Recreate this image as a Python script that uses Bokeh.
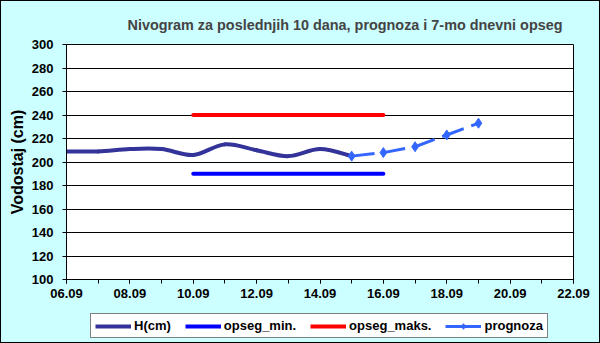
from bokeh.plotting import figure
from bokeh.layouts import column
from bokeh.models import Range1d, FixedTicker, Legend, LegendItem
from bokeh.embed import file_html
from bokeh.resources import INLINE

# ---- data ----
h_dates = ["06.09", "07.09", "08.09", "09.09", "10.09", "11.09", "12.09", "13.09", "14.09", "15.09"]
h_values = [209, 209, 211, 211, 206, 215, 210, 205, 211, 205]

prog_dates = ["15.09", "16.09", "17.09", "18.09", "19.09"]
prog_values = [205, 208, 213, 223, 233]

range_dates = ["10.09", "16.09"]
range_min = [190, 190]
range_max = [240, 240]

x_tick_labels = ["06.09", "08.09", "10.09", "12.09", "14.09", "16.09", "18.09", "20.09", "22.09"]
y_ticks = [100, 120, 140, 160, 180, 200, 220, 240, 260, 280, 300]

series_labels = ["H(cm)", "opseg_min.", "opseg_maks.", "prognoza"]
title_text = "Nivogram za poslednjih 10 dana, prognoza i 7-mo dnevni opseg"
y_label = "Vodostaj (cm)"


def day(s):
    return int(s.split(".")[0])


hx = [day(d) for d in h_dates]
px = [day(d) for d in prog_dates]
rx = [day(d) for d in range_dates]
xt = [day(d) for d in x_tick_labels]

FONT = "Liberation Sans"
BG = "#CCFFFF"
C_H, C_MIN, C_MAX, C_P = "#333399", "#0000FF", "#FF0000", "#3366FF"

p = figure(width=598, height=305, output_backend="svg", toolbar_location=None,
           x_range=Range1d(xt[0], xt[-1]), y_range=Range1d(y_ticks[0], y_ticks[-1]),
           min_border_left=65, min_border_right=26, min_border_top=43, min_border_bottom=27)
p.background_fill_color = "white"
p.border_fill_color = BG
p.outline_line_color = "black"
p.outline_line_width = 1

# title
p.title.text = title_text
p.title.text_font = FONT
p.title.text_font_style = "bold"
p.title.text_font_size = "14.4px"
p.title.align = "left"
p.title.offset = 61
p.title.standoff = 24

# axes
p.xaxis.ticker = FixedTicker(ticks=xt, minor_ticks=list(range(xt[0], xt[-1] + 1)))
p.xaxis.major_label_overrides = {d: s for d, s in zip(xt, x_tick_labels)}
p.yaxis.ticker = FixedTicker(ticks=y_ticks)
for ax in (p.xaxis[0], p.yaxis[0]):
    ax.axis_line_color = "black"
    ax.major_tick_line_color = "black"
    ax.major_tick_in = 0
    ax.major_tick_out = 4
    ax.major_label_text_font = FONT
    ax.major_label_text_font_style = "bold"
    ax.major_label_text_font_size = "13px"
    ax.major_label_text_color = "black"
p.xaxis.minor_tick_line_color = "black"
p.xaxis.minor_tick_in = 0
p.xaxis.minor_tick_out = 4
p.xaxis.major_label_standoff = 5
p.yaxis.minor_tick_line_color = None
p.yaxis.major_label_standoff = 9
p.yaxis.axis_label = y_label
p.yaxis.axis_label_text_font = FONT
p.yaxis.axis_label_text_font_style = "bold"
p.yaxis.axis_label_text_font_size = "16px"
p.yaxis.axis_label_text_color = "black"
p.yaxis.axis_label_standoff = 3

p.xgrid.visible = False
p.ygrid.ticker = FixedTicker(ticks=y_ticks)
p.ygrid.grid_line_color = "black"
p.ygrid.grid_line_alpha = 1

# smoothed H line (Catmull-Rom style bezier segments through the data points)
n = len(hx)
x0, y0, x1, y1, cx0, cy0, cx1, cy1 = [], [], [], [], [], [], [], []
for i in range(n - 1):
    pa = (hx[max(i - 1, 0)], h_values[max(i - 1, 0)])
    pb = (hx[i], h_values[i])
    pc = (hx[i + 1], h_values[i + 1])
    pd = (hx[min(i + 2, n - 1)], h_values[min(i + 2, n - 1)])
    x0.append(pb[0]); y0.append(pb[1]); x1.append(pc[0]); y1.append(pc[1])
    cx0.append(pb[0] + (pc[0] - pa[0]) / 6); cy0.append(pb[1] + (pc[1] - pa[1]) / 6)
    cx1.append(pc[0] - (pd[0] - pb[0]) / 6); cy1.append(pc[1] - (pd[1] - pb[1]) / 6)
p.bezier(x0=x0, y0=y0, x1=x1, y1=y1, cx0=cx0, cy0=cy0, cx1=cx1, cy1=cy1,
         line_color=C_H, line_width=4, line_cap="round")
p.line(rx, range_min, line_color=C_MIN, line_width=4, line_cap="round")
p.line(rx, range_max, line_color=C_MAX, line_width=4, line_cap="round")
p.line(px, prog_values, line_color=C_P, line_width=3, line_dash="23 8")
p.scatter(px, prog_values, marker="diamond", size=10, fill_color=C_P, line_color=C_P)

# ---- legend strip below the chart (its frame is aligned with the chart frame) ----
q = figure(width=598, height=36, output_backend="svg", toolbar_location=None,
           x_range=Range1d(0, 1), y_range=Range1d(0, 1),
           min_border_left=0, min_border_right=0, min_border_top=0, min_border_bottom=0)
q.axis.visible = False
q.grid.visible = False
q.outline_line_color = None
q.background_fill_color = BG
q.border_fill_color = BG
off = [-10, -9]  # keys drawn only in the legend, kept outside the visible range
l_h = q.line(off, off, line_color=C_H, line_width=4)
l_min = q.line(off, off, line_color=C_MIN, line_width=4)
l_max = q.line(off, off, line_color=C_MAX, line_width=4)
l_pl = q.line(off, off, line_color=C_P, line_width=3)
l_pm = q.scatter(off, off, marker="diamond", size=8, fill_color=C_P, line_color=C_P)

legend = Legend(items=[
    LegendItem(label=series_labels[0], renderers=[l_h]),
    LegendItem(label=series_labels[1], renderers=[l_min]),
    LegendItem(label=series_labels[2], renderers=[l_max]),
    LegendItem(label=series_labels[3], renderers=[l_pl, l_pm]),
], orientation="horizontal", location=(24, 4))
legend.label_text_font = FONT
legend.label_text_font_style = "bold"
legend.label_text_font_size = "13px"
legend.label_text_color = "black"
legend.label_height = 14
legend.glyph_height = 14
legend.glyph_width = 36
legend.label_standoff = 3
legend.spacing = 14
legend.padding = 4
legend.margin = 0
legend.border_line_color = "black"
legend.border_line_width = 1
legend.background_fill_color = "white"
legend.background_fill_alpha = 1
q.add_layout(legend, "center")

layout = column(p, q, spacing=0, styles={"border": "1px solid black", "background-color": BG})
open("out.html", "w").write(file_html(layout, INLINE))
